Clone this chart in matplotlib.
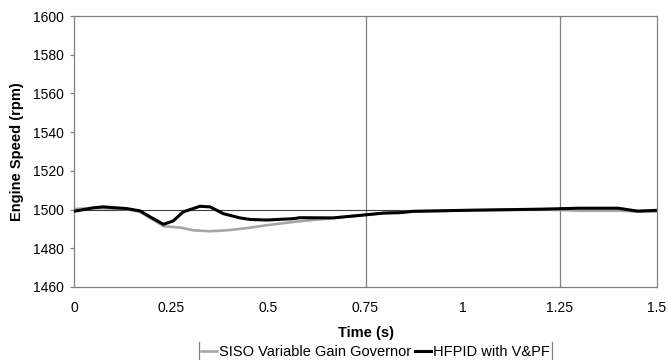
import matplotlib
matplotlib.use("Agg")
import matplotlib.pyplot as plt
from matplotlib.lines import Line2D

plt.rcParams['font.family'] = ['Liberation Sans', 'DejaVu Sans']

# SISO Variable Gain Governor (gray)
t_siso = [0, 0.05, 0.136, 0.17, 0.213, 0.23, 0.273, 0.307, 0.35, 0.393, 0.436,
          0.496, 0.564, 0.65, 0.736, 0.8, 0.873, 1.027, 1.2, 1.30, 1.40, 1.45, 1.5]
v_siso = [1500.3, 1500.8, 1500.2, 1498.8, 1493.6, 1491.4, 1490.7, 1489.3, 1488.8, 1489.3, 1490.2,
          1491.9, 1493.6, 1495.3, 1497.0, 1498.2, 1499.0, 1499.6, 1500.1, 1499.4, 1499.4, 1499.0, 1499.0]

# HFPID with V&PF (black)
t_hfpid = [0, 0.05, 0.075, 0.136, 0.17, 0.196, 0.23, 0.255, 0.281, 0.324, 0.35, 0.384,
           0.427, 0.453, 0.496, 0.564, 0.581, 0.667, 0.736, 0.797, 0.839, 0.873, 1.027,
           1.2, 1.30, 1.40, 1.45, 1.5]
v_hfpid = [1499.1, 1500.9, 1501.4, 1500.5, 1499.3, 1496.2, 1492.4, 1494.1, 1498.8, 1501.7, 1501.4, 1497.9,
           1495.7, 1494.9, 1494.6, 1495.3, 1495.8, 1495.7, 1497.0, 1498.2, 1498.4, 1499.1, 1499.7,
           1500.2, 1500.7, 1500.7, 1499.2, 1499.6]

x_ticks = [0, 0.25, 0.5, 0.75, 1, 1.25, 1.5]
x_ticklabels = ["0", "0.25", "0.5", "0.75", "1", "1.25", "1.5"]
y_ticks = [1460, 1480, 1500, 1520, 1540, 1560, 1580, 1600]
x_grid = [0.75, 1.25]
y_ref = 1500

fig = plt.figure(figsize=(6.68, 3.6), dpi=100)
ax = fig.add_axes([74/668, 1-287/360, (657-74)/668, (287-16)/360])

for xv in x_grid:
    ax.axvline(xv, color='#808080', lw=0.9, zorder=1)
ax.axhline(y_ref, color='#404040', lw=0.8, zorder=1)

ax.plot(t_siso, v_siso, color='#a6a6a6', lw=1.9, label='SISO Variable Gain Governor', zorder=2)
ax.plot(t_hfpid, v_hfpid, color='black', lw=2.2, label='HFPID with V&PF', zorder=3)

ax.set_xlim(0, 1.5)
ax.set_ylim(1460, 1600)
ax.set_xticks(x_ticks)
ax.set_xticklabels(x_ticklabels)
ax.set_yticks(y_ticks)
for s in ax.spines.values():
    s.set_color('#808080')
    s.set_linewidth(0.9)
ax.tick_params(axis='x', length=0, pad=10, labelsize=10)
ax.tick_params(axis='y', length=3, width=0.9, color='#808080', pad=4, labelsize=10)

ax.set_xlabel('Time (s)', fontsize=10.5, fontweight='bold', labelpad=8)
ax.set_ylabel('Engine Speed (rpm)', fontsize=10.5, fontweight='bold', labelpad=7)

h, l = ax.get_legend_handles_labels()
leg = fig.legend(h, l, loc='center', bbox_to_anchor=(375.5/668, 1-352/360), ncol=2,
                 frameon=False, fontsize=10.5, handlelength=1.1, handletextpad=0.12,
                 columnspacing=0.3, borderpad=0.15, borderaxespad=0)

fig.canvas.draw()
bb = leg.get_window_extent().transformed(fig.transFigure.inverted())
for xe in (bb.x0, bb.x1):
    fig.add_artist(Line2D([xe, xe], [0, 1-342/360], transform=fig.transFigure,
                          color='#808080', lw=0.9))

fig.savefig('out.png', dpi=100)
